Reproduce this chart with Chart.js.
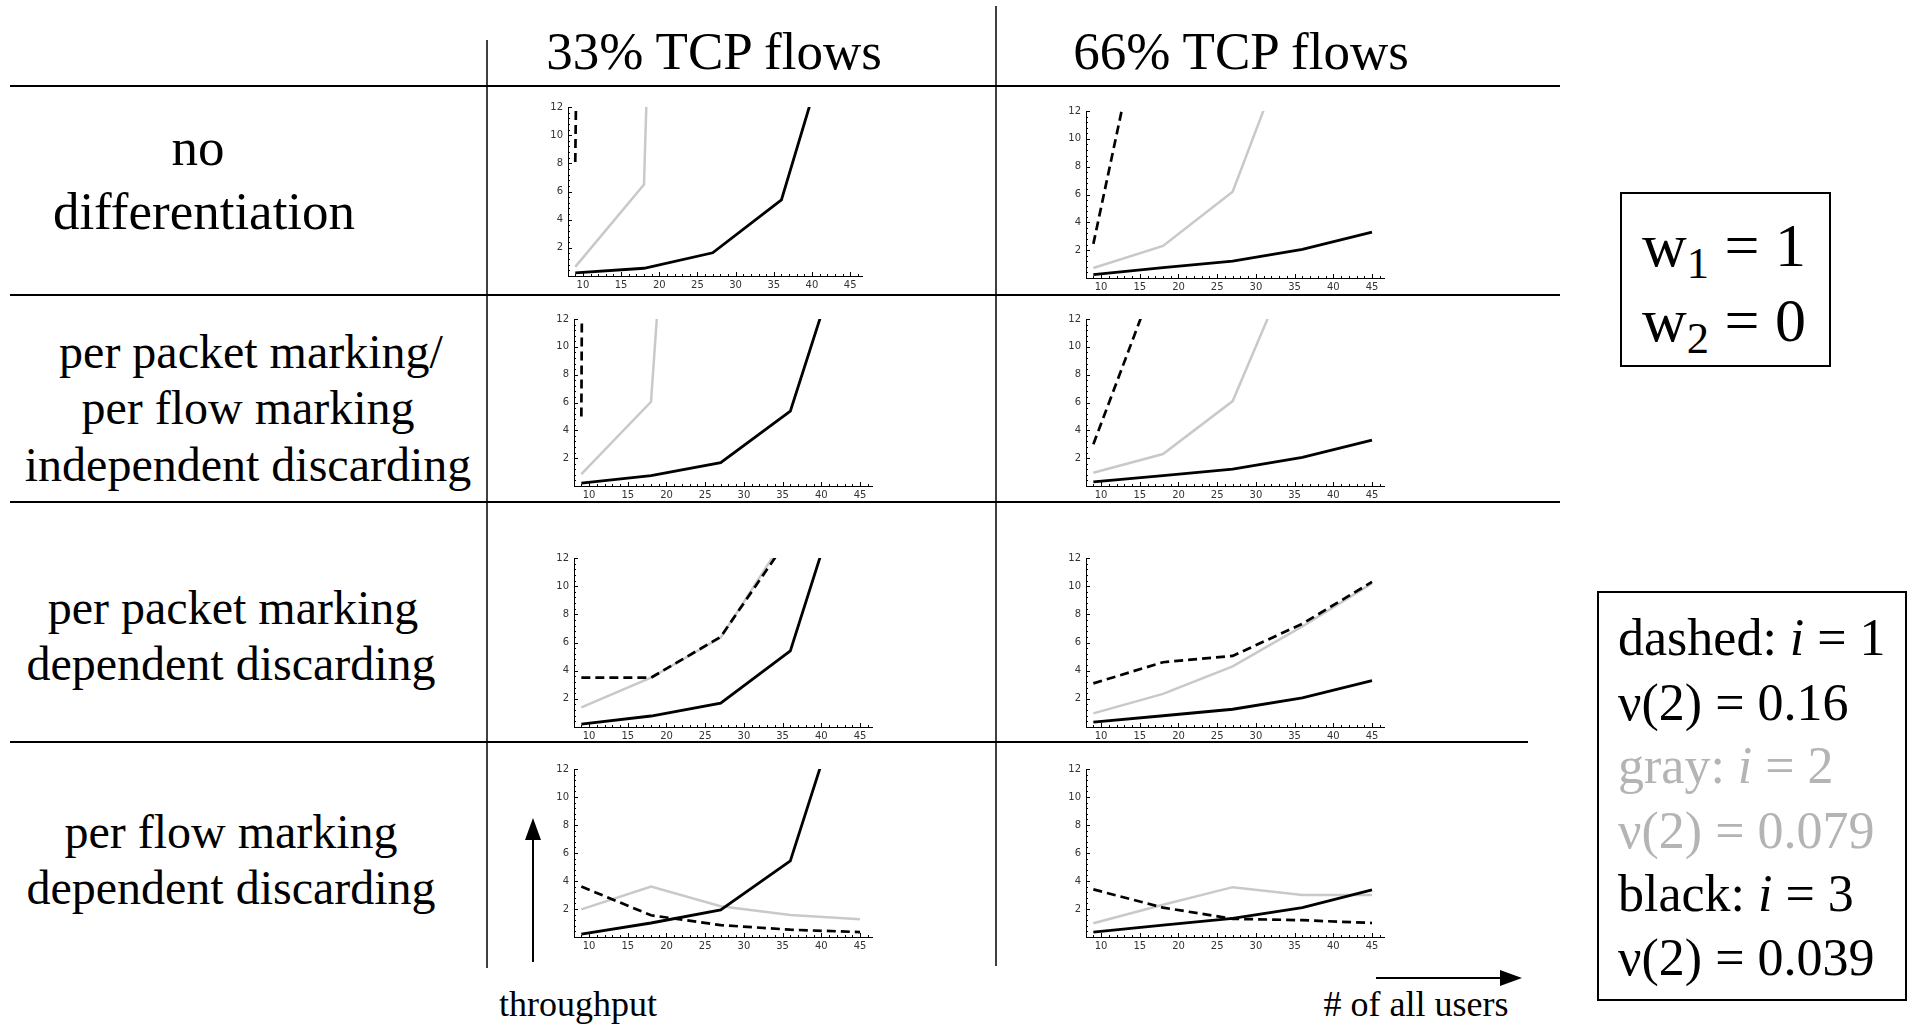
<!DOCTYPE html>
<html>
<head>
<meta charset="utf-8">
<script src="https://cdn.jsdelivr.net/npm/chart.js@4.4.1/dist/chart.umd.min.js"></script>
<style>
  body { margin: 0; background: #fff; }
  #page { position: relative; width: 1910px; height: 1024px; overflow: hidden; font-family: 'Liberation Serif', 'Times New Roman', serif; color: #000; }
  .t { position: absolute; white-space: nowrap; line-height: 1; }
  canvas { position: absolute; }
  sub { font-size: 0.72em; vertical-align: -0.28em; line-height: 0; }
</style>
</head>
<body>
<div id="page">
  <svg width="1910" height="1024" style="position:absolute;left:0;top:0">
    <g stroke="#000" fill="none">
      <line x1="10" y1="86" x2="1560" y2="86" stroke-width="2"/>
      <line x1="10" y1="295" x2="1560" y2="295" stroke-width="2"/>
      <line x1="10" y1="502" x2="1560" y2="502" stroke-width="2"/>
      <line x1="10" y1="742" x2="1528" y2="742" stroke-width="2"/>
      <line x1="487" y1="40" x2="487" y2="968" stroke-width="1.5"/>
      <line x1="996" y1="6" x2="996" y2="966" stroke-width="1.5"/>
      <line x1="533" y1="962" x2="533" y2="834" stroke-width="2"/>
      <line x1="1376" y1="978" x2="1506" y2="978" stroke-width="2"/>
      <rect x="1621" y="193" width="209" height="173" stroke-width="2"/>
      <rect x="1598" y="592" width="308" height="408" stroke-width="2"/>
    </g>
    <polygon points="533,818 525,840 541,840" fill="#000"/>
    <polygon points="1522,978 1500,970 1500,986" fill="#000"/>
  </svg>
</div>
<script>
// x = Anzahl aller Nutzer, y = Durchsatz
const usersX = [9, 18, 27, 36, 45];
const xTicks = [10, 15, 20, 25, 30, 35, 40, 45];
const yTicks = [2, 4, 6, 8, 10, 12];

// Zeile 1: no differentiation
const noDiff33Dashed = [8.1, 400, null, null, null];
const noDiff33Gray   = [0.65, 6.5, 170, null, null];
const noDiff33Black  = [0.22, 0.55, 1.65, 5.4, 21.7];
const noDiff66Dashed = [2.45, 26, null, null, null];
const noDiff66Gray   = [0.72, 2.3, 6.2, 19.4, null];
const noDiff66Black  = [0.25, 0.75, 1.22, 2.05, 3.3];

// Zeile 2: per packet / per flow marking, independent discarding
const indep33Dashed = [5.0, 1000, null, null, null];
const indep33Gray   = [0.85, 6.05, 78, null, null];
const indep33Black  = [0.2, 0.75, 1.68, 5.38, 21];
const indep66Dashed = [3.0, 16.3, null, null, null];
const indep66Gray   = [0.95, 2.3, 6.1, 17.9, null];
const indep66Black  = [0.3, 0.75, 1.22, 2.05, 3.3];

// Zeile 3: per packet marking, dependent discarding
const pktDep33Dashed = [3.5, 3.5, 6.4, 13.6, null];
const pktDep33Gray   = [1.4, 3.5, 6.35, 14.0, null];
const pktDep33Black  = [0.2, 0.78, 1.7, 5.4, 21];
const pktDep66Dashed = [3.1, 4.6, 5.05, 7.33, 10.3];
const pktDep66Gray   = [0.97, 2.35, 4.3, 7.14, 10.2];
const pktDep66Black  = [0.35, 0.8, 1.26, 2.07, 3.3];

// Zeile 4: per flow marking, dependent discarding
const flowDep33Dashed = [3.6, 1.55, 0.85, 0.52, 0.35];
const flowDep33Gray   = [1.97, 3.6, 2.2, 1.57, 1.26];
const flowDep33Black  = [0.2, 1.0, 1.94, 5.43, 21];
const flowDep66Dashed = [3.4, 2.1, 1.3, 1.2, 1.0];
const flowDep66Gray   = [0.98, 2.3, 3.56, 3.0, 3.0];
const flowDep66Black  = [0.35, 0.85, 1.33, 2.1, 3.37];

const page = document.getElementById('page');

// Text per Grundlinie platzieren (Liberation Serif: Grundlinie bei 0.8375 em)
function text(html, x, baseline, size, opts = {}) {
  const d = document.createElement('div');
  d.className = 't';
  d.innerHTML = html;
  d.style.fontSize = size + 'px';
  d.style.left = x + 'px';
  d.style.top = (baseline - 0.8375 * size) + 'px';
  if (opts.center) d.style.transform = 'translateX(-50%)';
  if (opts.color) d.style.color = opts.color;
  page.appendChild(d);
}

text('33% TCP flows', 714, 69, 53, { center: true });
text('66% TCP flows', 1241, 69, 53, { center: true });

text('no', 198, 165, 53, { center: true });
text('differentiation', 204, 229, 53, { center: true });
text('per packet marking/', 251, 368, 48, { center: true });
text('per flow marking', 248, 424, 48, { center: true });
text('independent discarding', 248, 481, 48, { center: true });
text('per packet marking', 233, 624, 48, { center: true });
text('dependent discarding', 231, 680, 48, { center: true });
text('per flow marking', 231, 848, 48, { center: true });
text('dependent discarding', 231, 904, 48, { center: true });

text('throughput', 578, 1016, 36, { center: true });
text('# of all users', 1416, 1016, 36, { center: true });

text('w<sub>1</sub> = 1', 1642, 266, 62);
text('w<sub>2</sub> = 0', 1642, 341, 62);

const GRAU = '#c9c9c9';
text('dashed: <i>i</i> = 1', 1618, 656, 52);
text('ν(2) = 0.16', 1618, 721, 52);
text('gray: <i>i</i> = 2', 1618, 784, 52, { color: '#b4b4b4' });
text('ν(2) = 0.079', 1618, 849, 52, { color: '#b4b4b4' });
text('black: <i>i</i> = 3', 1618, 912, 52);
text('ν(2) = 0.039', 1618, 976, 52);

// kleine Tick-Striche nach innen, wie im Original
const innerTicks = {
  id: 'innerTicks',
  afterDraw(chart) {
    const { ctx, chartArea: a, scales: { x, y } } = chart;
    ctx.save();
    ctx.strokeStyle = '#000';
    ctx.lineWidth = 1;
    ctx.beginPath();
    for (let v = 9; v <= 46; v++) {
      const px = Math.round(x.getPixelForValue(v)) + 0.5;
      const len = v % 5 === 0 ? 4 : 2;
      ctx.moveTo(px, a.bottom);
      ctx.lineTo(px, a.bottom - len);
    }
    for (let k = 1; k <= 30; k++) {
      const py = Math.round(y.getPixelForValue(k * 0.4)) + 0.5;
      const len = k % 5 === 0 ? 4 : 2;
      ctx.moveTo(a.left, py);
      ctx.lineTo(a.left + len, py);
    }
    ctx.stroke();
    ctx.restore();
  },
};

const pts = (arr) => usersX.map((x, i) => ({ x, y: arr[i] }));
const tickFont = { family: "'DejaVu Sans', sans-serif", size: 10 };

function smallChart(plot, dashed, gray, black) {
  const [pl, pt, pr, pb] = plot;
  const c = document.createElement('canvas');
  const w = pr - pl + 36, h = pb - pt + 26;
  c.width = w; c.height = h;
  c.style.left = (pl - 26) + 'px';
  c.style.top = (pt - 8) + 'px';
  c.style.width = w + 'px';
  c.style.height = h + 'px';
  page.appendChild(c);
  new Chart(c.getContext('2d'), {
    type: 'line',
    data: {
      datasets: [
        { data: pts(dashed), borderColor: '#000', borderWidth: 2.7, borderDash: [9, 5], pointRadius: 0 },
        { data: pts(black), borderColor: '#000', borderWidth: 2.8, pointRadius: 0 },
        { data: pts(gray), borderColor: GRAU, borderWidth: 2.5, pointRadius: 0 },
      ],
    },
    options: {
      responsive: false,
      animation: false,
      devicePixelRatio: 1,
      layout: { padding: { top: 8, right: 10, left: 0, bottom: 0 } },
      plugins: { legend: { display: false }, tooltip: { enabled: false } },
      scales: {
        x: {
          type: 'linear', min: 8.05, max: 46.55,
          afterBuildTicks: (s) => { s.ticks = xTicks.map((v) => ({ value: v })); },
          afterFit: (s) => { s.height = 18; },
          grid: { display: false, drawTicks: false },
          border: { display: true, color: '#000', width: 1 },
          ticks: { font: tickFont, color: '#333', padding: 3, maxRotation: 0, autoSkip: false },
        },
        y: {
          min: 0, max: 12,
          afterBuildTicks: (s) => { s.ticks = yTicks.map((v) => ({ value: v })); },
          afterFit: (s) => { s.width = 26; },
          grid: { display: false, drawTicks: false },
          border: { display: true, color: '#000', width: 1 },
          ticks: { font: tickFont, color: '#333', padding: 5, autoSkip: false },
        },
      },
    },
    plugins: [innerTicks],
  });
}

smallChart([568, 104, 862, 276], noDiff33Dashed, noDiff33Gray, noDiff33Black);
smallChart([1086, 108, 1384, 278], noDiff66Dashed, noDiff66Gray, noDiff66Black);
smallChart([574, 316, 872, 486], indep33Dashed, indep33Gray, indep33Black);
smallChart([1086, 316, 1384, 486], indep66Dashed, indep66Gray, indep66Black);
smallChart([574, 555, 872, 727], pktDep33Dashed, pktDep33Gray, pktDep33Black);
smallChart([1086, 555, 1384, 727], pktDep66Dashed, pktDep66Gray, pktDep66Black);
smallChart([574, 766, 872, 937], flowDep33Dashed, flowDep33Gray, flowDep33Black);
smallChart([1086, 766, 1384, 937], flowDep66Dashed, flowDep66Gray, flowDep66Black);
</script>
</body>
</html>
